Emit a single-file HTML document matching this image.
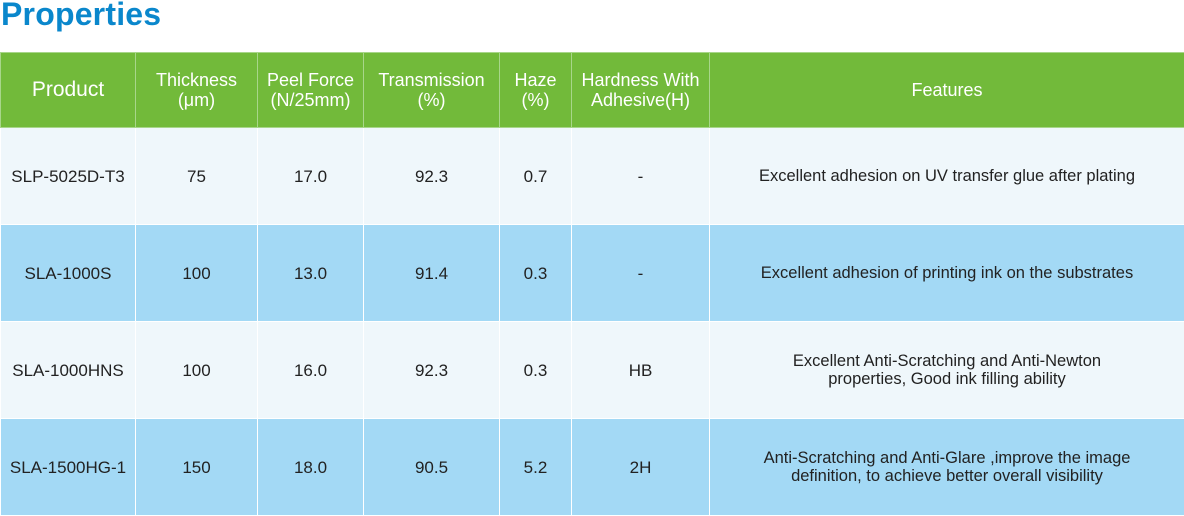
<!DOCTYPE html>
<html><head><meta charset="utf-8"><style>
body{margin:0;width:1184px;height:514px;background:#fff;overflow:hidden;font-family:"Liberation Sans",sans-serif;}
.t{position:absolute;left:1px;top:-4px;font:bold 32px "Liberation Sans",sans-serif;color:#0a87cc;letter-spacing:0.2px}
table{position:absolute;left:0;top:52px;border-collapse:collapse;table-layout:fixed;width:1184px}
td{border:1px solid #d8ecd0;text-align:center;vertical-align:middle;padding:0;font-size:17px;color:#222;line-height:19px}
tr.h td{background:#72ba3a;color:#fff;height:74px;font-size:18px;border-color:#a8d68a;line-height:20px}
tr.h td.p{font-size:21px}
tr.l td{background:#eff7fb;height:96px;border-color:#fff}
tr.b td{background:#a3d9f5;height:96px;border-color:#fff}
td.f{font-size:16.5px;line-height:18px}
</style></head><body>
<div class="t">Properties</div>
<table>
<colgroup><col style="width:135px"><col style="width:122px"><col style="width:106px"><col style="width:136px"><col style="width:72px"><col style="width:138px"><col style="width:475px"></colgroup>
<tr class="h"><td class="p">Product</td><td>Thickness<br>(μm)</td><td>Peel Force<br>(N/25mm)</td><td>Transmission<br>(%)</td><td>Haze<br>(%)</td><td>Hardness With<br>Adhesive(H)</td><td>Features</td></tr>
<tr class="l"><td>SLP-5025D-T3</td><td>75</td><td>17.0</td><td>92.3</td><td>0.7</td><td>-</td><td class="f">Excellent adhesion on UV transfer glue after plating</td></tr>
<tr class="b"><td>SLA-1000S</td><td>100</td><td>13.0</td><td>91.4</td><td>0.3</td><td>-</td><td class="f">Excellent adhesion of printing ink on the substrates</td></tr>
<tr class="l"><td>SLA-1000HNS</td><td>100</td><td>16.0</td><td>92.3</td><td>0.3</td><td>HB</td><td class="f">Excellent Anti-Scratching and Anti-Newton<br>properties, Good ink filling ability</td></tr>
<tr class="b"><td>SLA-1500HG-1</td><td>150</td><td>18.0</td><td>90.5</td><td>5.2</td><td>2H</td><td class="f">Anti-Scratching and Anti-Glare ,improve the image<br>definition, to achieve better overall visibility</td></tr>
</table>
</body></html>
